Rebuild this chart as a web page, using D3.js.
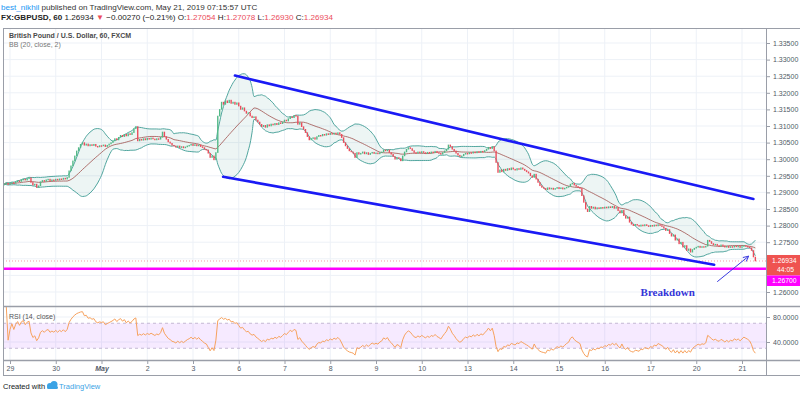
<!DOCTYPE html>
<html>
<head>
<meta charset="utf-8">
<script src="https://cdn.jsdelivr.net/npm/d3@7"></script>
<style>
  body { margin: 0; background: #fff; }
  svg { display: block; font-family: "Liberation Sans", Arial, sans-serif; }
</style>
</head>
<body>
<script>
// Clôtures horaires GBPUSD (première barre : dim. 28 avr. 21:00 UTC)
const closesApr29 = [
  1.2925, 1.2928, 1.2924,
  1.2927, 1.2930, 1.2928, 1.2932, 1.2935, 1.2933, 1.2938, 1.2940, 1.2937, 1.2942,
  1.2944, 1.2930, 1.2922, 1.2925, 1.2915, 1.2920, 1.2932, 1.2936, 1.2933, 1.2938,
  1.2940, 1.2935, 1.2938, 1.2936, 1.2940, 1.2937, 1.2941, 1.2939, 1.2943, 1.2940,
  1.2945, 1.2965, 1.2980, 1.2995, 1.3010, 1.3025, 1.3035, 1.3045, 1.3050, 1.3042,
  1.3046, 1.3040, 1.3044, 1.3041, 1.3045, 1.3039, 1.3037, 1.3041, 1.3040, 1.3043,
  1.3038, 1.3042, 1.3046, 1.3050, 1.3055, 1.3062, 1.3058, 1.3066, 1.3072, 1.3068,
  1.3075, 1.3070, 1.3077, 1.3074, 1.3080, 1.3092, 1.3098, 1.3055, 1.3060, 1.3057,
  1.3062, 1.3058, 1.3063, 1.3060, 1.3064, 1.3061, 1.3058, 1.3062, 1.3060, 1.3066,
  1.3082, 1.3068, 1.3060, 1.3052, 1.3048, 1.3042, 1.3040, 1.3036, 1.3040, 1.3035,
  1.3038, 1.3034, 1.3037, 1.3040, 1.3042, 1.3045, 1.3041, 1.3044, 1.3040, 1.3043,
  1.3038, 1.3035, 1.3030, 1.3028, 1.3018, 1.3005, 1.3010, 1.2998, 1.3020, 1.3130,
  1.3150, 1.3172, 1.3165, 1.3176, 1.3170, 1.3178, 1.3168, 1.3172, 1.3165, 1.3170
];
const closesMay6 = [
  1.3160, 1.3150, 1.3155, 1.3145, 1.3138, 1.3140, 1.3130, 1.3125, 1.3128, 1.3118,
  1.3112, 1.3105, 1.3098, 1.3102, 1.3096, 1.3104, 1.3100, 1.3106, 1.3103, 1.3108,
  1.3104, 1.3110, 1.3107, 1.3112, 1.3118, 1.3115, 1.3122, 1.3128, 1.3125, 1.3132,
  1.3130, 1.3105, 1.3110, 1.3098, 1.3090, 1.3080, 1.3068, 1.3058, 1.3062, 1.3065,
  1.3060, 1.3068, 1.3072, 1.3070, 1.3075, 1.3072, 1.3077, 1.3074, 1.3078, 1.3075,
  1.3079, 1.3076, 1.3080, 1.3075, 1.3065, 1.3050, 1.3040, 1.3032, 1.3025, 1.3022,
  1.3018, 1.3005, 1.3020, 1.3015, 1.3018, 1.3022, 1.3016, 1.3020, 1.3014, 1.3018,
  1.3021, 1.3017, 1.3019, 1.3016, 1.3020, 1.3022, 1.3028, 1.3025, 1.3028, 1.3020,
  1.3015, 1.3008, 1.3000, 1.3005, 1.3002, 1.2995, 1.3010, 1.3022, 1.3030, 1.3035,
  1.3032, 1.3026, 1.3020, 1.3018, 1.3022, 1.3019, 1.3023, 1.3020, 1.3017, 1.3021,
  1.3018, 1.3022, 1.3020, 1.3024, 1.3020, 1.3018, 1.3015, 1.3020, 1.3025, 1.3030,
  1.3043, 1.3038, 1.3030, 1.3025, 1.3018, 1.3012, 1.3008, 1.3010, 1.3015, 1.3018
];
const closesMay13 = [
  1.3016, 1.3020, 1.3018, 1.3022, 1.3019, 1.3023, 1.3020, 1.3024, 1.3022, 1.3026,
  1.3030, 1.3036, 1.3032, 1.3038, 1.3025, 1.2990, 1.2960, 1.2968, 1.2962, 1.2970,
  1.2966, 1.2972, 1.2968, 1.2974, 1.2970, 1.2967, 1.2972, 1.2969, 1.2974, 1.2970,
  1.2966, 1.2962, 1.2958, 1.2950, 1.2945, 1.2955, 1.2940, 1.2930, 1.2920, 1.2915,
  1.2912, 1.2908, 1.2914, 1.2910, 1.2913, 1.2909, 1.2912, 1.2915, 1.2911, 1.2914,
  1.2910, 1.2913, 1.2916, 1.2918, 1.2925, 1.2928, 1.2922, 1.2918, 1.2915, 1.2912,
  1.2890, 1.2870, 1.2850, 1.2842, 1.2858, 1.2852, 1.2856, 1.2850, 1.2854, 1.2851,
  1.2855, 1.2852, 1.2856, 1.2853, 1.2857, 1.2854, 1.2858, 1.2852, 1.2855, 1.2845,
  1.2838, 1.2846, 1.2830, 1.2822, 1.2826, 1.2810, 1.2804, 1.2800, 1.2804, 1.2801,
  1.2798, 1.2802, 1.2799, 1.2803, 1.2800, 1.2797, 1.2801, 1.2798, 1.2802, 1.2799,
  1.2803, 1.2800, 1.2797, 1.2792, 1.2785, 1.2788, 1.2776, 1.2768, 1.2772, 1.2756,
  1.2760, 1.2745, 1.2750, 1.2735, 1.2740, 1.2725, 1.2730, 1.2720, 1.2728, 1.2732
];
const closesMay20 = [
  1.2735, 1.2738, 1.2734, 1.2737, 1.2735, 1.2738, 1.2756, 1.2752, 1.2746, 1.2742,
  1.2744, 1.2740, 1.2738, 1.2742, 1.2739, 1.2735, 1.2738, 1.2734, 1.2737, 1.2735,
  1.2739, 1.2736, 1.2738, 1.2734, 1.2737, 1.2740, 1.2738, 1.2736, 1.2733, 1.2725,
  1.27054, 1.26934
];

// Axe du temps : une étiquette toutes les 24 barres
const dayLabels = ["29", "30", "May", "2", "3", "6", "7", "8", "9", "10", "13", "14", "15", "16", "17", "20", "21"];
const priceTicks = [1.260, 1.265, 1.270, 1.275, 1.280, 1.285, 1.290, 1.295, 1.300,
                    1.305, 1.310, 1.315, 1.320, 1.325, 1.330, 1.335];
const rsiTicks = [80, 40];
const rsiBand = [70, 30];

// Dessins de l'auteur : [indice de barre, prix]
const channelUpper = [[118, 1.3252], [390, 1.2880]];
const channelLower = [[111.8, 1.2947], [369.4, 1.2682]];
const breakdownArrow = [[371, 1.2631], [387.5, 1.2708]];
const breakdownText = [345, 1.2587];
const supportLevel = 1.26700;

// En-tête
const author = "best_nikhil";
const published = " published on TradingView.com, May 21, 2019 07:15:57 UTC";
const symbol = "FX:GBPUSD, 60";
const lastPrice = 1.26934;
const change = "\u22120.00270 (\u22120.21%)";
const ohlc = [["O:", "1.27054"], ["H:", "1.27078"], ["L:", "1.26930"], ["C:", "1.26934"]];
const countdown = "44:05";

const upColor = "#53b987", downColor = "#eb4d5c";
const gridColor = "#edf1f7", frameColor = "#9a9ea8", textColor = "#4f5966";

const frame = {left: 3, right: 766, top: 28, mainBottom: 306, rsiBottom: 360, bottom: 375};

const svg = d3.select("body").append("svg")
    .attr("width", 800)
    .attr("height", 396);

// Barres
const closes = [].concat(closesApr29, closesMay6, closesMay13, closesMay20);
const firstIndex = -3;
const bars = closes.map((c, k) => ({i: firstIndex + k, o: k ? closes[k - 1] : c, c: c}));

// Bandes de Bollinger (20, 2)
const bb = bars.map((b, k) => {
    const win = closes.slice(Math.max(0, k - 19), k + 1);
    const m = d3.mean(win);
    const sd = Math.sqrt(d3.mean(win, v => (v - m) * (v - m)));
    return {i: b.i, mid: m, up: m + 2 * sd, lo: m - 2 * sd};
});

// RSI (14) avec lissage de Wilder
const rsi = [];
let avgU = 0, avgD = 0;
for (let k = 1; k < closes.length; k++) {
    const ch = closes[k] - closes[k - 1];
    const n = Math.min(k, 14);
    avgU += (Math.max(ch, 0) - avgU) / n;
    avgD += (Math.max(-ch, 0) - avgD) / n;
    rsi.push({i: bars[k].i, v: avgD === 0 ? 100 : 100 - 100 / (1 + avgU / avgD)});
}

// Échelles
const x = d3.scaleLinear().domain([0, 384]).range([10, 742]);
const y = d3.scaleLinear().domain([1.26, 1.335]).range([292, 43]);
const yr = d3.scaleLinear().domain([40, 80]).range([342, 317]);
const dayIdx = dayLabels.map((d, k) => k * 24);

// Zones de découpage
const defs = svg.append("defs");
defs.append("clipPath").attr("id", "clipMain").append("rect")
    .attr("x", frame.left).attr("y", frame.top)
    .attr("width", frame.right - frame.left).attr("height", frame.mainBottom - frame.top);
defs.append("clipPath").attr("id", "clipRsi").append("rect")
    .attr("x", frame.left).attr("y", frame.mainBottom)
    .attr("width", frame.right - frame.left).attr("height", frame.rsiBottom - frame.mainBottom);

// Grille
const grid = svg.append("g");
grid.selectAll(".vg").data(dayIdx).join("line")
    .attr("x1", d => x(d)).attr("x2", d => x(d))
    .attr("y1", frame.top).attr("y2", frame.rsiBottom)
    .attr("stroke", gridColor);
grid.selectAll(".hg").data(priceTicks).join("line")
    .attr("x1", frame.left).attr("x2", frame.right)
    .attr("y1", d => y(d)).attr("y2", d => y(d))
    .attr("stroke", gridColor);
grid.selectAll(".rg").data(rsiTicks).join("line")
    .attr("x1", frame.left).attr("x2", frame.right)
    .attr("y1", d => yr(d)).attr("y2", d => yr(d))
    .attr("stroke", gridColor);

// Panneau principal
const main = svg.append("g").attr("clip-path", "url(#clipMain)");

main.append("path")
    .datum(bb)
    .attr("fill", "#198476")
    .attr("fill-opacity", 0.08)
    .attr("d", d3.area().x(d => x(d.i)).y0(d => y(d.lo)).y1(d => y(d.up)).curve(d3.curveMonotoneX));

["up", "lo"].forEach(key => {
    main.append("path")
        .datum(bb)
        .attr("fill", "none")
        .attr("stroke", "#3e9c94")
        .attr("stroke-width", 0.9)
        .attr("d", d3.line().x(d => x(d.i)).y(d => y(d[key])).curve(d3.curveMonotoneX));
});
main.append("path")
    .datum(bb)
    .attr("fill", "none")
    .attr("stroke", "#a0504c")
    .attr("stroke-width", 0.8)
    .attr("d", d3.line().x(d => x(d.i)).y(d => y(d.mid)));

main.selectAll(".candle").data(bars).join("rect")
    .attr("x", d => x(d.i) - 0.7)
    .attr("width", 1.4)
    .attr("y", d => y(Math.max(d.o, d.c)) - 0.3)
    .attr("height", d => Math.max(1.5, Math.abs(y(d.o) - y(d.c)) + 0.6))
    .attr("fill", d => d.c >= d.o ? upColor : downColor);

// Ligne du dernier prix
main.append("line")
    .attr("x1", frame.left).attr("x2", frame.right)
    .attr("y1", y(lastPrice)).attr("y2", y(lastPrice))
    .attr("stroke", downColor).attr("stroke-opacity", 0.55)
    .attr("stroke-dasharray", "1,2");

// Support
main.append("line")
    .attr("x1", frame.left).attr("x2", frame.right)
    .attr("y1", y(supportLevel)).attr("y2", y(supportLevel))
    .attr("stroke", "#ff00ff").attr("stroke-width", 2.6);

// Canal baissier
[channelUpper, channelLower].forEach(pts => {
    main.append("line")
        .attr("x1", x(pts[0][0])).attr("y1", y(pts[0][1]))
        .attr("x2", x(pts[1][0])).attr("y2", y(pts[1][1]))
        .attr("stroke", "#1a1af5").attr("stroke-width", 2.6)
        .attr("stroke-linecap", "round");
});

// Flèche et texte
const ax1 = x(breakdownArrow[0][0]), ay1 = y(breakdownArrow[0][1]);
const ax2 = x(breakdownArrow[1][0]), ay2 = y(breakdownArrow[1][1]);
const ang = Math.atan2(ay2 - ay1, ax2 - ax1);
main.append("path")
    .attr("fill", "none").attr("stroke", "#3a3ae0").attr("stroke-width", 1)
    .attr("d", `M${ax1},${ay1}L${ax2},${ay2}` +
        `M${ax2 - 6 * Math.cos(ang - 0.45)},${ay2 - 6 * Math.sin(ang - 0.45)}L${ax2},${ay2}` +
        `L${ax2 - 6 * Math.cos(ang + 0.45)},${ay2 - 6 * Math.sin(ang + 0.45)}`);
svg.append("text")
    .attr("x", x(breakdownText[0])).attr("y", y(breakdownText[1]))
    .attr("text-anchor", "middle")
    .attr("font-family", "'Liberation Serif', 'Times New Roman', serif")
    .attr("font-weight", "bold").attr("font-size", 11)
    .attr("fill", "#3434d8")
    .text("Breakdown");

// Panneau RSI
const rsiG = svg.append("g").attr("clip-path", "url(#clipRsi)");
rsiG.append("rect")
    .attr("x", frame.left).attr("width", frame.right - frame.left)
    .attr("y", yr(rsiBand[0])).attr("height", yr(rsiBand[1]) - yr(rsiBand[0]))
    .attr("fill", "#9915ff").attr("fill-opacity", 0.09);
rsiG.selectAll(".band").data(rsiBand).join("line")
    .attr("x1", frame.left).attr("x2", frame.right)
    .attr("y1", d => yr(d)).attr("y2", d => yr(d))
    .attr("stroke", "#c3b8d4").attr("stroke-dasharray", "3,3");
rsiG.append("path")
    .datum(rsi)
    .attr("fill", "none").attr("stroke", "#f7a25e").attr("stroke-width", 1)
    .attr("d", d3.line().x(d => x(d.i)).y(d => yr(d.v)));

// Cadres
const fr = svg.append("g").attr("stroke", frameColor).attr("fill", "none");
fr.append("rect")
    .attr("x", frame.left + 0.5).attr("y", frame.top + 0.5)
    .attr("width", 800 - frame.left).attr("height", frame.bottom - frame.top);
[frame.mainBottom, frame.rsiBottom].forEach(v => {
    fr.append("line").attr("x1", frame.left).attr("x2", 800)
        .attr("y1", v + 0.5).attr("y2", v + 0.5).attr("stroke-width", 1.3);
});
fr.append("line").attr("x1", frame.right + 0.5).attr("x2", frame.right + 0.5)
    .attr("y1", frame.top).attr("y2", frame.bottom);

// Étiquettes à droite (positions)
const lastY = y(lastPrice);
const boxTop = lastY - 6, boxBottom = lastY + 25;

// Axe des prix (sans les graduations cachées par les étiquettes)
const visibleTicks = priceTicks.filter(t => y(t) < boxTop - 3 || y(t) > boxBottom + 3);
const priceAxis = svg.append("g")
    .attr("transform", `translate(${frame.right + 1},0)`)
    .call(d3.axisRight(y).tickValues(visibleTicks).tickFormat(d3.format(".5f")).tickSize(3).tickPadding(3));
priceAxis.select(".domain").remove();
const rsiAxis = svg.append("g")
    .attr("transform", `translate(${frame.right + 1},0)`)
    .call(d3.axisRight(yr).tickValues(rsiTicks).tickFormat(d3.format(".4f")).tickSize(3).tickPadding(3));
rsiAxis.select(".domain").remove();
[priceAxis, rsiAxis].forEach(a => {
    a.selectAll("line").attr("stroke", frameColor);
    a.selectAll("text").attr("fill", textColor).attr("font-size", 7)
        .attr("font-family", "'Liberation Sans', Arial, sans-serif");
});

// Axe du temps
const timeAxis = svg.append("g")
    .attr("transform", `translate(0,${frame.rsiBottom + 1})`)
    .call(d3.axisBottom(x).tickValues(dayIdx).tickFormat((d, k) => dayLabels[k]).tickSize(3).tickPadding(2));
timeAxis.select(".domain").remove();
timeAxis.selectAll("line").attr("stroke", frameColor);
timeAxis.selectAll("text").attr("fill", textColor).attr("font-size", 7)
    .attr("font-family", "'Liberation Sans', Arial, sans-serif")
    .attr("font-weight", d => d === 48 ? "bold" : "normal")
    .attr("font-style", d => d === 48 ? "italic" : "normal");

// Étiquettes du dernier prix, du compte à rebours et du support
svg.append("rect").attr("x", frame.right + 1).attr("y", boxTop)
    .attr("width", 800 - frame.right).attr("height", 20.5).attr("fill", "#ef5350");
svg.append("text").attr("x", 772).attr("y", lastY + 2.2)
    .attr("font-size", 6.8).attr("fill", "#fff").text(d3.format(".5f")(lastPrice));
svg.append("text").attr("x", 777).attr("y", lastY + 10.8)
    .attr("font-size", 6.8).attr("fill", "#fff").text(countdown);
svg.append("rect").attr("x", frame.right + 1).attr("y", lastY + 14.5)
    .attr("width", 800 - frame.right).attr("height", 10.5).attr("fill", "#ff00ff");
svg.append("text").attr("x", 772).attr("y", lastY + 22.2)
    .attr("font-size", 6.8).attr("fill", "#fff").text(d3.format(".5f")(supportLevel));

// Titres
const head = svg.append("g").attr("font-size", 8.1);
const l1 = head.append("text").attr("x", 1).attr("y", 9.5);
l1.append("tspan").attr("fill", "#2196f3").text(author);
l1.append("tspan").attr("fill", "#333").text(published);
const l2 = head.append("text").attr("x", 1).attr("y", 19.5).attr("fill", "#222");
l2.append("tspan").attr("font-weight", "bold").text(symbol);
l2.append("tspan").text(" " + d3.format(".5f")(lastPrice) + " ");
l2.append("tspan").attr("fill", downColor).text("\u25BC");
l2.append("tspan").text(" " + change + " ");
ohlc.forEach(([k, v]) => {
    l2.append("tspan").text(k);
    l2.append("tspan").attr("fill", downColor).text(v + " ");
});

svg.append("text").attr("x", 9).attr("y", 37.5)
    .attr("font-size", 7).attr("font-weight", "bold").attr("fill", "#4a4a4a")
    .text("British Pound / U.S. Dollar, 60, FXCM");
svg.append("text").attr("x", 9).attr("y", 46.5)
    .attr("font-size", 7).attr("fill", "#777")
    .text("BB (20, close, 2)");
svg.append("text").attr("x", 9).attr("y", 319)
    .attr("font-size", 7).attr("fill", "#555")
    .text("RSI (14, close)");

// Pied de page
svg.append("text").attr("x", 3).attr("y", 389)
    .attr("font-size", 7.5).attr("fill", "#131722")
    .text("Created with");
const logo = svg.append("g").attr("transform", "translate(46,381)").attr("fill", "#3ba3e5");
logo.append("circle").attr("cx", 4).attr("cy", 5).attr("r", 3);
logo.append("circle").attr("cx", 8).attr("cy", 3.5).attr("r", 3.5);
logo.append("rect").attr("x", 1).attr("y", 5).attr("width", 11).attr("height", 3).attr("rx", 1.5);
svg.append("text").attr("x", 59).attr("y", 389)
    .attr("font-size", 7.5).attr("fill", "#3ba3e5")
    .text("TradingView");
</script>
</body>
</html>
